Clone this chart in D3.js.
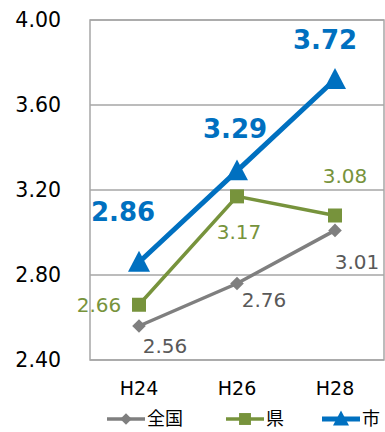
<!DOCTYPE html>
<html>
<head>
<meta charset="utf-8">
<script src="https://cdn.jsdelivr.net/npm/d3@7"></script>
<style>
  body { margin: 0; background: #fff; }
  svg { display: block; }
  text { font-family: "DejaVu Sans", Verdana, sans-serif; }
  .jp { font-family: "Noto Sans CJK JP", sans-serif; }
</style>
</head>
<body>
<svg id="chart"></svg>
<script>
// Data
var years = ["H24", "H26", "H28"];
var zenkoku = [2.56, 2.76, 3.01];
var ken = [2.66, 3.17, 3.08];
var shi = [2.86, 3.29, 3.72];
var yTicks = [2.40, 2.80, 3.20, 3.60, 4.00];

var width = 385, height = 432;
var margin = { top: 20, right: 1, bottom: 72, left: 90 };

var svg = d3.select("#chart")
  .attr("width", width)
  .attr("height", height);

var x = d3.scaleBand()
  .domain(years)
  .range([margin.left, width - margin.right]);

var y = d3.scaleLinear()
  .domain([2.4, 4.0])
  .range([height - margin.bottom, margin.top]);

// Gridlines
svg.append("g")
  .selectAll("line")
  .data(yTicks)
  .enter().append("line")
  .attr("x1", margin.left)
  .attr("x2", width - margin.right)
  .attr("y1", function(d) { return y(d); })
  .attr("y2", function(d) { return y(d); })
  .attr("stroke", "#a6a6a6")
  .attr("stroke-width", 1.5);

// Plot border
svg.append("rect")
  .attr("x", margin.left)
  .attr("y", y(4.0))
  .attr("width", width - margin.right - margin.left)
  .attr("height", y(2.4) - y(4.0))
  .attr("fill", "none")
  .attr("stroke", "#a6a6a6")
  .attr("stroke-width", 1.5);

// Y axis labels
var yAxis = d3.axisLeft(y)
  .tickValues(yTicks)
  .tickFormat(d3.format(".2f"))
  .tickSize(0)
  .tickPadding(29);
var gy = svg.append("g")
  .attr("transform", "translate(" + margin.left + ",0)")
  .call(yAxis);
gy.select(".domain").remove();
gy.selectAll("text")
  .attr("font-family", "DejaVu Sans, Verdana, sans-serif")
  .attr("font-size", 20.5)
  .attr("fill", "#000");

// X axis labels
var xAxis = d3.axisBottom(x).tickSize(0).tickPadding(22);
var gx = svg.append("g")
  .attr("transform", "translate(0," + y(2.4) + ")")
  .call(xAxis);
gx.select(".domain").remove();
gx.selectAll("text")
  .attr("font-family", "DejaVu Sans, Verdana, sans-serif")
  .attr("font-size", 19)
  .attr("fill", "#000");

var cx = function(i) { return x(years[i]) + x.bandwidth() / 2; };

var series = [
  { name: "全国", values: zenkoku, color: "#7f7f7f", text: "#595959", width: 3.5, marker: "diamond", size: 12,
    bold: false, fontSize: 20,
    labels: [[26, 20], [27, 16], [22, 32]] },
  { name: "県", values: ken, color: "#77933c", text: "#77933c", width: 3.5, marker: "square", size: 14,
    bold: false, fontSize: 20,
    labels: [[-40, 0], [2, 36], [10, -40]] },
  { name: "市", values: shi, color: "#0070c0", text: "#0070c0", width: 5, marker: "triangle", size: 22,
    bold: true, fontSize: 26,
    labels: [[-16, -50], [-2, -42], [-10, -40]] }
];

var line = d3.line()
  .x(function(d, i) { return cx(i); })
  .y(function(d) { return y(d); });

function drawMarker(g, type, size, color) {
  if (type === "diamond") {
    g.append("rect")
      .attr("x", -size / 2).attr("y", -size / 2)
      .attr("width", size).attr("height", size)
      .attr("transform", "rotate(45) scale(0.8)")
      .attr("fill", color);
  } else if (type === "square") {
    g.append("rect")
      .attr("x", -size / 2).attr("y", -size / 2)
      .attr("width", size).attr("height", size)
      .attr("fill", color);
  } else {
    var h = size * 0.95;
    g.append("path")
      .attr("d", "M0," + (-h / 2 - 1) + "L" + (size / 2) + "," + (h / 2 - 1) + "L" + (-size / 2) + "," + (h / 2 - 1) + "Z")
      .attr("fill", color);
  }
}

series.forEach(function(s) {
  svg.append("path")
    .datum(s.values)
    .attr("d", line)
    .attr("fill", "none")
    .attr("stroke", s.color)
    .attr("stroke-width", s.width);

  s.values.forEach(function(v, i) {
    var g = svg.append("g")
      .attr("transform", "translate(" + cx(i) + "," + y(v) + ")");
    drawMarker(g, s.marker, s.size, s.color);
  });

  svg.append("g")
    .selectAll("text")
    .data(s.values)
    .enter().append("text")
    .attr("x", function(d, i) { return cx(i) + s.labels[i][0]; })
    .attr("y", function(d, i) { return y(d) + s.labels[i][1]; })
    .attr("text-anchor", "middle")
    .attr("dominant-baseline", "central")
    .attr("font-size", s.fontSize)
    .attr("font-weight", s.bold ? "bold" : "normal")
    .attr("fill", s.text)
    .text(function(d) { return d3.format(".2f")(d); });
});

// Legend
var legendX = [107, 226, 322];
var legend = svg.append("g")
  .selectAll("g")
  .data(series)
  .enter().append("g")
  .attr("transform", function(d, i) { return "translate(" + legendX[i] + ",419)"; });

legend.append("line")
  .attr("x1", 0).attr("x2", 38)
  .attr("stroke", function(d) { return d.color; })
  .attr("stroke-width", function(d) { return d.width; });

legend.each(function(d) {
  var g = d3.select(this).append("g").attr("transform", "translate(19,0)");
  drawMarker(g, d.marker, d.marker === "triangle" ? 16 : d.size * 0.85, d.color);
});

legend.append("text")
  .attr("class", "jp")
  .attr("x", 40)
  .attr("y", 0)
  .attr("dy", "0.36em")
  .attr("font-size", 18)
  .attr("fill", "#000")
  .text(function(d) { return d.name; });
</script>
</body>
</html>
